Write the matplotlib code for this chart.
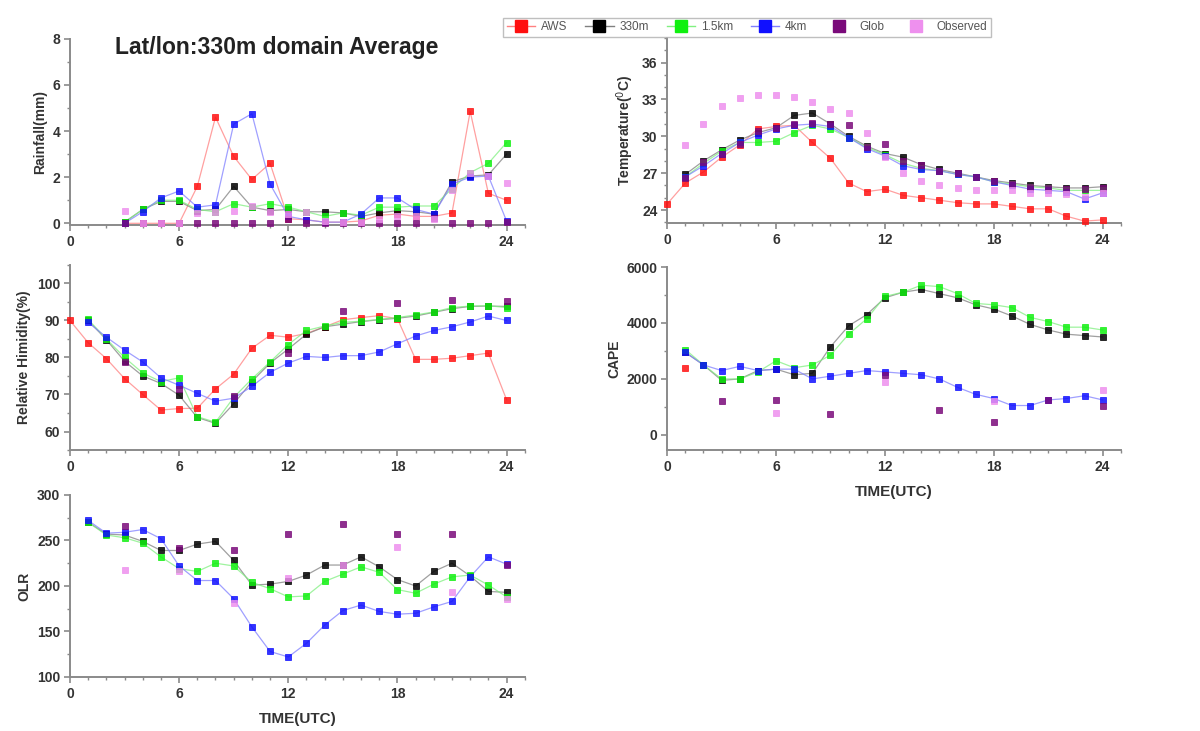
import numpy as np
import matplotlib
matplotlib.use("Agg")
import matplotlib.pyplot as plt
from matplotlib.lines import Line2D
from matplotlib.ticker import MultipleLocator

plt.rcParams['font.family'] = ['Liberation Sans', 'DejaVu Sans']

nan = np.nan
hours = np.arange(0, 25)

series_names = ["AWS", "330m", "1.5km", "4km", "Glob", "Observed"]
series_colors = ["#ff1010", "#000000", "#10f010", "#1010ff", "#7a0a7a", "#ee90ee"]
line_colors = ["#ff8080", "#808080", "#80f080", "#8080ff", None, None]

# ---- Rainfall (mm) ----
rain_aws = [nan, nan, nan, 0, 0, 0, 0, 1.6, 4.6, 2.9, 1.9, 2.6, 0.2, 0.15, 0.05, 0.05,
            0.1, 0.35, 0.4, 0.3, 0.3, 0.45, 4.85, 1.3, 1.0]
rain_330 = [nan, nan, nan, 0.05, 0.6, 0.95, 0.95, 0.55, 0.6, 1.6, 0.7, 0.55, 0.6, 0.5,
            0.5, 0.45, 0.3, 0.45, 0.55, 0.5, 0.4, 1.8, 2.05, 2.1, 3.0]
rain_15k = [nan, nan, nan, 0.05, 0.6, 1.0, 1.0, 0.6, 0.5, 0.85, 0.7, 0.85, 0.7, 0.5,
            0.3, 0.45, 0.35, 0.7, 0.7, 0.75, 0.75, 1.5, 2.2, 2.6, 3.5]
rain_4k = [nan, nan, nan, 0.0, 0.5, 1.1, 1.4, 0.7, 0.8, 4.3, 4.75, 1.7, 0.3, 0.15,
           0.05, 0.05, 0.4, 1.1, 1.1, 0.6, 0.4, 1.7, 2.0, 2.05, 0.1]
rain_glob = [nan, nan, nan, 0, 0, 0, 0, 0, 0, 0, 0, 0, 0.2, 0, 0, 0, 0, 0, 0, 0,
             0.25, 0, 0, 0, 0.05]
rain_obs = [nan, nan, nan, 0.55, 0, 0, 0, 0.45, 0.5, 0.55, 0.75, 0.5, 0.4, 0.5, 0.1,
            0.05, 0.05, 0.2, 0.3, 0.3, 0.2, 1.45, 2.2, 2.05, 1.75]

# ---- Temperature (C) ----
temp_aws = [24.5, 26.2, 27.1, 28.3, 29.3, 30.6, 30.8, 30.9, 29.5, 28.2, 26.2, 25.5, 25.7,
            25.2, 25.0, 24.8, 24.6, 24.5, 24.5, 24.3, 24.1, 24.1, 23.5, 23.1, 23.2]
temp_330 = [nan, 26.9, 28.0, 28.9, 29.7, 30.3, 30.7, 31.7, 31.9, 31.0, 30.0, 29.2, 28.6,
            28.3, 27.7, 27.3, 27.0, 26.7, 26.4, 26.2, 26.0, 25.9, 25.8, 25.8, 25.9]
temp_15k = [nan, 26.7, 27.8, 28.8, 29.5, 29.5, 29.6, 30.3, 30.9, 30.6, 29.9, 29.1, 28.5,
            27.8, 27.4, 27.2, 26.9, 26.7, 26.3, 26.1, 25.9, 25.8, 25.6, 25.6, 25.6]
temp_4k = [nan, 26.7, 27.6, 28.6, 29.5, 30.1, 30.6, 30.9, 31.0, 30.8, 29.9, 29.0, 28.4,
           27.6, 27.3, 27.2, 26.9, 26.7, 26.3, 26.0, 25.7, 25.6, 25.5, 24.9, 25.4]
temp_glob = [nan, 26.6, 27.9, 28.6, 29.4, 30.4, 30.7, 31.0, 31.1, 31.0, 30.9, 29.1, 29.4,
             28.0, 27.7, 27.2, 27.0, 26.7, 26.4, 26.1, 25.9, 25.8, 25.7, 25.7, 25.8]
temp_obs = [nan, 29.3, 31.0, 32.5, 33.1, 33.4, 33.4, 33.2, 32.8, 32.2, 31.9, 30.3, 28.3,
            27.0, 26.4, 26.0, 25.8, 25.6, 25.6, 25.6, 25.4, 25.4, 25.3, 25.1, 25.4]

# ---- Relative humidity (%) ----
rh_aws = [90, 84, 79.7, 74.3, 70, 65.8, 66.2, 66.3, 71.5, 75.5, 82.5, 86, 85.5, 86.5,
          88.3, 90.2, 90.8, 91.3, 90.5, 79.5, 79.5, 79.8, 80.5, 81.2, 68.6]
rh_330 = [nan, 90, 84.8, 79, 75, 73, 69.8, 63.8, 62.2, 67.5, 73.5, 78.5, 82.3, 86.3,
          88.3, 89, 89.7, 90.2, 90.6, 91.2, 92.2, 93.2, 93.8, 93.9, 93.8]
rh_15k = [nan, 90.3, 85, 80, 75.8, 73.5, 74.5, 64, 62.5, 69.2, 74.2, 78.8, 83.5, 87.3,
          88.5, 89.5, 89.8, 90.3, 90.8, 91.5, 92.3, 93.5, 93.9, 94, 93.5]
rh_4k = [nan, 89.5, 85.5, 82, 78.8, 74.5, 72.5, 70.3, 68.2, 69, 72.2, 76, 78.5, 80.3,
         80, 80.5, 80.5, 81.5, 83.7, 85.8, 87.3, 88.3, 89.6, 91.2, 90]
rh_glob = [nan, nan, nan, 78.8, nan, nan, 71.5, nan, nan, 69.5, nan, nan, 81.3, nan,
           nan, 92.7, nan, nan, 94.8, nan, nan, 95.6, nan, nan, 95.2]
rh_obs = [nan] * 25

# ---- CAPE (J/kg) ----
cape_aws = [nan, 2400] + [nan] * 23
cape_330 = [nan, 2950, 2500, 1950, 2000, 2300, 2350, 2150, 2200, 3150, 3900, 4300, 4900,
            5100, 5200, 5050, 4900, 4650, 4500, 4250, 3950, 3750, 3600, 3550, 3500]
cape_15k = [nan, 3050, 2500, 2000, 2000, 2250, 2650, 2400, 2500, 2850, 3600, 4150, 4950,
            5100, 5350, 5300, 5050, 4700, 4650, 4550, 4200, 4050, 3850, 3850, 3750]
cape_4k = [nan, 2950, 2500, 2300, 2450, 2300, 2350, 2350, 2000, 2100, 2200, 2300, 2250,
           2200, 2150, 2000, 1700, 1450, 1300, 1050, 1050, 1250, 1300, 1400, 1250]
cape_glob = [nan, nan, nan, 1200, nan, nan, 1250, nan, nan, 750, nan, nan, 2150, nan,
             nan, 900, nan, nan, 450, nan, nan, 1250, nan, nan, 1050]
cape_obs = [nan, nan, nan, nan, nan, nan, 780, nan, nan, nan, nan, nan, 1900, nan,
            nan, nan, nan, nan, 1200, nan, nan, nan, nan, nan, 1600]

# ---- OLR (W/m2) ----
olr_aws = [nan] * 25
olr_330 = [nan, 270, 257, 256, 249, 239, 239, 246, 249, 228, 201, 202, 205, 212, 223,
           223, 232, 221, 207, 200, 216, 225, 211, 194, 193]
olr_15k = [nan, 270, 256, 253, 247, 232, 219, 216, 225, 222, 204, 197, 188, 189, 205,
           213, 221, 215, 196, 192, 202, 210, 212, 201, 188]
olr_4k = [nan, 272, 258, 259, 262, 252, 222, 206, 206, 186, 155, 128, 122, 137, 157,
          173, 179, 172, 169, 170, 177, 183, 210, 232, 224]
olr_glob = [nan, nan, nan, 266, nan, nan, 242, nan, nan, 239, nan, nan, 257, nan, nan,
            268, nan, nan, 257, nan, nan, 257, nan, nan, 223]
olr_obs = [nan, nan, nan, 217, nan, nan, 216, nan, nan, 181, nan, nan, 209, nan, nan,
           223, nan, nan, 243, nan, nan, 193, nan, nan, 186]

x_ticks = [0, 6, 12, 18, 24]

fig = plt.figure(figsize=(12, 7.31), dpi=100)

AX_COLOR = "#8a8a8a"
TXT_COLOR = "#333333"


def style_axes(ax, ylim, yticks, yminor, ylabel, xlabel=None):
    ax.set_xlim(0, 25)
    ax.set_ylim(*ylim)
    ax.set_xticks(x_ticks)
    ax.xaxis.set_minor_locator(MultipleLocator(1))
    ax.set_yticks(yticks)
    ax.yaxis.set_minor_locator(MultipleLocator(yminor))
    for s in ("top", "right"):
        ax.spines[s].set_visible(False)
    for s in ("left", "bottom"):
        ax.spines[s].set_color(AX_COLOR)
        ax.spines[s].set_linewidth(1.4)
    ax.tick_params(which="major", length=4, width=1.2, color=AX_COLOR,
                   labelsize=10, labelcolor=TXT_COLOR, pad=3)
    ax.tick_params(which="minor", length=2.5, width=1.0, color=AX_COLOR)
    for lab in ax.get_xticklabels() + ax.get_yticklabels():
        lab.set_fontweight("bold")
    ax.set_ylabel(ylabel, fontsize=10, fontweight="bold", color=TXT_COLOR)
    if xlabel:
        ax.set_xlabel(xlabel, fontsize=11, fontweight="bold", color=TXT_COLOR,
                      labelpad=8)
    ax.patch.set_alpha(0)


def draw_series(ax, data):
    for i, vals in enumerate(data):
        y = np.array(vals, dtype=float)
        if line_colors[i] is not None:
            ax.plot(hours, y, color=line_colors[i], lw=0.9, alpha=0.75, zorder=2)
        ax.plot(hours, y, ls="none", marker="s", ms=5.0, color=series_colors[i],
                mec=series_colors[i], mew=0.6, alpha=0.85, zorder=3 + i * 0.1,
                clip_on=False)


ax_rain = fig.add_axes([0.0583, 0.692, 0.379, 0.255])
draw_series(ax_rain, [rain_aws, rain_330, rain_15k, rain_4k, rain_glob, rain_obs])
style_axes(ax_rain, (-0.08, 8), [0, 2, 4, 6, 8], 1, "Rainfall(mm)")
ax_rain.text(0.098, 0.955, "Lat/lon:330m domain Average", transform=ax_rain.transAxes,
             fontsize=16.5, fontweight="bold", color="#222222", va="center")

ax_temp = fig.add_axes([0.556, 0.695, 0.378, 0.253])
draw_series(ax_temp, [temp_aws, temp_330, temp_15k, temp_4k, temp_glob, temp_obs])
style_axes(ax_temp, (22.95, 38), [24, 27, 30, 33, 36], 1, "Temperature($^0$C)")

ax_rh = fig.add_axes([0.0583, 0.3844, 0.379, 0.2531])
draw_series(ax_rh, [rh_aws, rh_330, rh_15k, rh_4k, rh_glob, rh_obs])
style_axes(ax_rh, (55, 105), [60, 70, 80, 90, 100], 5, "Relative Himidity(%)")

ax_cape = fig.add_axes([0.556, 0.3844, 0.378, 0.2503])
draw_series(ax_cape, [cape_aws, cape_330, cape_15k, cape_4k, cape_glob, cape_obs])
style_axes(ax_cape, (-540, 6000), [0, 2000, 4000, 6000], 1000, "CAPE",
           xlabel="TIME(UTC)")

ax_olr = fig.add_axes([0.0583, 0.0739, 0.379, 0.249])
draw_series(ax_olr, [olr_aws, olr_330, olr_15k, olr_4k, olr_glob, olr_obs])
style_axes(ax_olr, (100, 300), [100, 150, 200, 250, 300], 25, "OLR",
           xlabel="TIME(UTC)")

handles = []
for i, name in enumerate(series_names):
    ls = "-" if line_colors[i] is not None else "none"
    lc = line_colors[i] if line_colors[i] is not None else series_colors[i]
    handles.append(Line2D([0], [0], ls=ls, color=lc, lw=1.0, marker="s", ms=8,
                          mfc=series_colors[i], mec=series_colors[i], label=name))
leg = fig.legend(handles=handles, loc="center", bbox_to_anchor=(0.6225, 0.963),
                 ncol=6, fontsize=8.5, frameon=True, fancybox=False,
                 edgecolor="#b0b0b0", handlelength=2.4, handletextpad=0.5,
                 columnspacing=1.5, borderpad=0.3)
leg.get_frame().set_linewidth(1.0)
for t in leg.get_texts():
    t.set_color("#555555")

fig.savefig("out.png", dpi=100)
